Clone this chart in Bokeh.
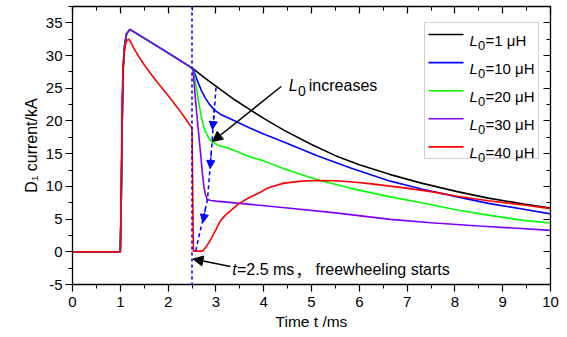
from bokeh.plotting import figure
from bokeh.models import (LinearAxis, SingleIntervalTicker, Span, Arrow, NormalHead,
                          Label, BoxAnnotation, Range1d, CustomJSTickFormatter)
from bokeh.embed import file_html
from bokeh.resources import INLINE

FONT = "Liberation Sans"

# ---- D1 current (kA) against time (ms) ----
# conduction phase shared by the L0 = 1, 10, 20 and 30 uH cases
t_main = [0.0, 1.0, 1.02, 1.04, 1.06, 1.09, 1.13, 1.2, 1.6, 2.0, 2.52]
i_main = [0.0, 0.0, 8.0, 20.0, 28.0, 31.5, 33.3, 34.0, 32.2, 30.4, 28.0]

# freewheeling phase, one array pair per L0
t_l1 = [2.52, 2.8, 3.1, 3.4, 3.72, 4.0, 4.42, 5.0, 5.5, 6.0, 6.65, 7.3, 8.05, 8.7, 9.44, 10.0]
i_l1 = [28.0, 26.4, 24.8, 23.2, 21.7, 20.4, 18.6, 16.4, 14.7, 13.3, 11.8, 10.5, 9.2, 8.2, 7.3, 6.7]

t_l10 = [2.52, 2.61, 2.7, 2.78, 2.87, 2.96, 3.1, 3.31, 3.72, 4.0, 4.42, 5.12, 5.82,
         6.65, 7.3, 8.05, 8.7, 9.44, 10.0]
i_l10 = [28.0, 26.2, 24.6, 23.5, 22.5, 21.75, 21.0, 20.3, 18.9, 18.0, 16.8, 14.7, 12.8,
         10.8, 9.6, 8.4, 7.4, 6.5, 5.8]

t_l20 = [2.52, 2.57, 2.61, 2.66, 2.71, 2.76, 2.82, 2.87, 2.92, 3.05, 3.31, 3.72, 4.0,
         4.42, 5.12, 5.82, 6.65, 7.3, 8.05, 8.7, 9.44, 10.0]
i_l20 = [28.0, 26.0, 24.2, 22.0, 20.1, 18.8, 17.8, 17.2, 16.8, 16.3, 15.7, 14.5, 13.9,
         12.7, 11.0, 9.7, 8.4, 7.5, 6.4, 5.6, 4.8, 4.4]

t_l30 = [2.52, 2.57, 2.62, 2.68, 2.72, 2.75, 2.78, 2.82, 2.9, 3.0, 3.72, 4.5, 5.5,
         6.65, 7.5, 8.5, 9.3, 10.0]
i_l30 = [28.0, 23.5, 19.5, 15.0, 11.8, 9.9, 8.8, 8.0, 7.85, 7.75, 7.25, 6.7, 5.95,
         4.95, 4.45, 3.95, 3.6, 3.27]

# L0 = 40 uH follows its own waveform over the whole window
t_l40 = [0.0, 1.0, 1.02, 1.04, 1.06, 1.09, 1.13, 1.18, 1.22, 1.3, 1.4, 1.5, 1.63,
         1.8, 2.0, 2.2, 2.35, 2.5, 2.53, 2.72, 2.8, 2.9, 2.96, 3.03, 3.1, 3.2, 3.31,
         3.48, 3.65, 3.93, 4.07, 4.42, 4.8, 5.12, 5.5, 5.82, 6.3, 6.86, 7.5, 8.05,
         8.7, 9.44, 10.0]
i_l40 = [0.0, 0.0, 10.0, 24.0, 28.5, 31.0, 32.3, 32.5, 32.0, 30.9, 29.7, 28.6, 27.3,
         25.7, 23.9, 22.0, 20.5, 18.9, 0.1, 0.1, 0.8, 2.0, 2.8, 3.8, 4.8, 5.6, 6.3,
         7.35, 8.1, 9.1, 9.7, 10.5, 10.8, 10.9, 10.85, 10.7, 10.35, 9.85, 9.2, 8.5,
         7.8, 7.15, 6.6]

inductances = ["1", "10", "20", "30", "40"]          # L0 in uH
colors = ["black", "#0000FF", "#00FF00", "#8000FF", "#FF0000"]
t_switch = 2.5                                         # freewheeling starts (ms)

x_ticks_interval = 1
y_ticks_interval = 5

# ---- figure geometry ----
X0, X1, Y0, Y1 = 0.0, 10.0, -5.0, 37.5
FL, FR, FT, FB = 72, 550, 6, 284          # frame edges in pixels
W, H = 567, 337


def dx(px):
    return X0 + (px - FL) * (X1 - X0) / (FR - FL)


def dy(py):
    return Y1 - (py - FT) * (Y1 - Y0) / (FB - FT)


p = figure(width=W, height=H, x_range=Range1d(X0, X1), y_range=Range1d(Y0, Y1),
           output_backend="svg", toolbar_location=None,
           min_border_left=FL, min_border_right=W - FR,
           min_border_top=FT, min_border_bottom=H - FB)
p.grid.visible = False
p.outline_line_color = None
p.background_fill_color = "white"
p.border_fill_color = "white"

plain = CustomJSTickFormatter(code="return String(tick)")


def style_axis(ax, outward, show_labels):
    ax.axis_line_width = 1.3
    ax.axis_line_color = "black"
    ax.major_tick_line_color = "black"
    ax.minor_tick_line_color = "black"
    ax.major_tick_line_width = 1.2
    ax.minor_tick_line_width = 1.0
    if outward:
        ax.major_tick_out, ax.major_tick_in = 7, 0
        ax.minor_tick_out, ax.minor_tick_in = 4, 0
    else:
        ax.major_tick_out, ax.major_tick_in = 0, 7
        ax.minor_tick_out, ax.minor_tick_in = 0, 4
    ax.major_label_text_font = FONT
    ax.major_label_text_font_size = "15px"
    ax.major_label_text_color = "black"
    ax.axis_label_text_font = FONT
    ax.axis_label_text_font_size = "15.5px"
    ax.axis_label_text_font_style = "normal"
    ax.axis_label_text_color = "black"
    if show_labels:
        ax.formatter = plain
    else:
        ax.formatter = CustomJSTickFormatter(code="return ''")
        ax.major_label_standoff = 0


p.xaxis.ticker = SingleIntervalTicker(interval=x_ticks_interval, num_minor_ticks=2)
p.yaxis.ticker = SingleIntervalTicker(interval=y_ticks_interval, num_minor_ticks=2)
style_axis(p.xaxis[0], True, True)
style_axis(p.yaxis[0], True, True)
p.xaxis.major_label_standoff = 5
p.yaxis.major_label_standoff = 3
p.xaxis.axis_label = "Time t /ms"
p.yaxis.axis_label = "D\u2081 current/kA"
p.xaxis.axis_label_standoff = 3
p.yaxis.axis_label_standoff = 3
p.yaxis.axis_label_text_font_size = "16px"

top = LinearAxis(ticker=SingleIntervalTicker(interval=x_ticks_interval, num_minor_ticks=2))
right = LinearAxis(ticker=SingleIntervalTicker(interval=y_ticks_interval, num_minor_ticks=2))
style_axis(top, False, False)
style_axis(right, False, False)
p.add_layout(top, "above")
p.add_layout(right, "right")

# ---- curves ----
series = [
    (t_main[:-1] + t_l1, i_main[:-1] + i_l1),
    (t_main[:-1] + t_l10, i_main[:-1] + i_l10),
    (t_main[:-1] + t_l20, i_main[:-1] + i_l20),
    (t_main[:-1] + t_l30, i_main[:-1] + i_l30),
    (t_l40, i_l40),
]
for (tx, iy), c in zip(series, colors):
    p.line(tx, iy, line_color=c, line_width=1.6)

# switching instant
p.add_layout(Span(location=t_switch, dimension="height", line_color="#0000FF",
                  line_dash="3 3", line_width=1.6))


def label(text, px, py, size, italic=False, font=FONT):
    p.add_layout(Label(x=X0, y=Y0, x_offset=px - FL, y_offset=FB - py, text=text,
                       text_font=font, text_font_size=f"{size}px",
                       text_font_style="italic" if italic else "normal",
                       text_color="black", text_align="left",
                       text_baseline="alphabetic"))


# ---- legend ----
p.add_layout(BoxAnnotation(left=dx(424), right=dx(538), top=dy(22), bottom=dy(158),
                           fill_color="white", fill_alpha=1.0, line_color="#666666",
                           line_width=1.0, level="underlay"))
for k, (lv, c) in enumerate(zip(inductances, colors)):
    ly = 34 + 28.1 * k
    p.line([dx(428), dx(463)], [dy(ly), dy(ly)], line_color=c, line_width=1.6)
    label("L", 469, ly + 6, 15, italic=True)
    label("0", 477.5, ly + 10.5, 13)
    label(f"={lv} \u03bcH", 485, ly + 6, 15)

# ---- annotations ----
head = dict(fill_color="black", line_color="black")
p.add_layout(Arrow(x_start=dx(280.7), y_start=dy(86), x_end=dx(212), y_end=dy(141),
                   line_width=1.5, line_color="black", end=NormalHead(size=10, **head)))
p.add_layout(Arrow(x_start=dx(230), y_start=dy(266), x_end=dx(192.5), y_end=dy(258.5),
                   line_width=1.5, line_color="black", end=NormalHead(size=10, **head)))

label("L", 288.3, 85, 16, italic=True)
label("0", 297.5, 90, 14)
label("increases", 308.3, 85, 16)

label("t", 231.7, 268.5, 16, italic=True)
label("=2.5 ms", 236.5, 268.5, 16)
label("\uff0c", 295, 268.5, 16, font="Noto Sans CJK SC")
label("freewheeling starts", 315, 268.5, 16)

# trend of the knee points as L0 grows
trend_px = [(215.5, 87), (211.5, 143), (207, 199), (195, 251)]
p.line([dx(a) for a, b in trend_px], [dy(b) for a, b in trend_px],
       line_color="#0000FF", line_dash="4 3", line_width=1.5)
for (xa, ya), (xb, yb) in [((214, 108), (212, 129)), ((210.8, 152), (209.7, 168)),
                           ((205, 208), (202.5, 222))]:
    p.add_layout(Arrow(x_start=dx(xa), y_start=dy(ya), x_end=dx(xb), y_end=dy(yb),
                       line_width=1.5, line_color="#0000FF", line_dash="4 3",
                       end=NormalHead(size=8, fill_color="#0000FF", line_color="#0000FF")))

open("out.html", "w").write(file_html(p, INLINE))
